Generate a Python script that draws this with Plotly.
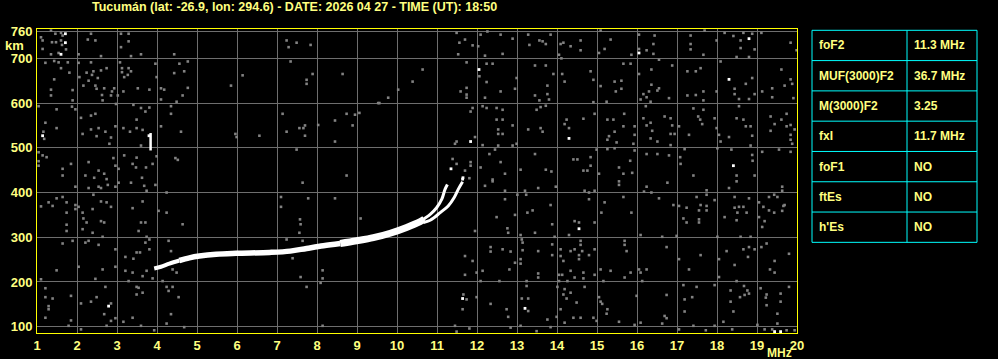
import plotly.graph_objects as go

TITLE = "Tucumán (lat: -26.9, lon: 294.6) - DATE: 2026 04 27 - TIME (UT): 18:50"

x_ticks = list(range(1, 21))
y_ticks = [100, 200, 300, 400, 500, 600, 700, 760]

# F2 echo trace (common part), then ordinary and extraordinary branches
main_mhz = [3.93, 4.10, 4.31, 4.56, 4.81, 5.06, 5.48, 5.98, 6.81, 7.33, 7.74, 8.16, 8.58, 8.99, 9.41, 9.83, 10.24, 10.58, 10.68]
main_km = [230, 234, 241, 248, 254, 258, 262, 264, 266, 269, 275, 281, 286, 292, 299, 309, 322, 335, 340]
o_mhz = [10.62, 10.83, 10.99, 11.12, 11.20, 11.26]
o_km = [338, 351, 366, 385, 407, 418]
x_mhz = [10.66, 10.83, 11.08, 11.28, 11.43, 11.53, 11.64]
x_km = [333, 338, 355, 370, 389, 407, 424]
spur_mhz = [3.84, 3.84]
spur_km = [494, 533]

# bright isolated echoes
white_mhz = [1.71, 1.71, 1.60, 1.14, 12.05, 11.84, 11.35, 11.64, 16.05, 18.80, 18.30, 14.30, 18.41, 2.79, 11.64, 13.20, 14.55, 19.44, 19.59, 11.65, 3.80]
white_km = [755, 735, 709, 527, 675, 514, 453, 430, 712, 744, 653, 521, 460, 146, 163, 141, 319, 89, 89, 433, 527]

# background noise speckles, read region by region (MHz, km)
noise_upper_left = [
    (1.35, 762), (1.46, 755), (1.60, 757), (1.64, 751), (1.10, 747), (1.14, 740), (1.375, 736), (1.475, 736),
    (1.60, 740), (1.625, 730), (1.14, 721), (1.54, 712), (1.35, 709), (1.725, 720), (2.04, 709), (2.35, 755),
    (2.27, 742), (2.46, 740), (2.60, 705), (3.10, 755), (3.29, 755), (3.29, 738), (3.10, 725), (3.35, 705),
    (3.60, 709), (4.43, 709), (7.24, 740), (7.29, 725), (1.21, 690), (1.43, 694), (1.54, 691), (1.77, 691),
    (1.60, 678), (1.81, 668), (2.04, 690), (2.35, 691), (2.06, 658), (2.24, 668), (2.375, 663), (2.41, 671),
    (2.60, 673), (2.74, 678), (2.29, 650), (2.52, 656), (1.43, 653), (3.075, 691), (3.125, 678), (3.29, 678),
    (3.125, 669), (3.35, 671), (3.18, 658), (3.27, 663), (3.96, 688), (3.99, 658), (4.56, 688), (4.77, 693),
    (4.43, 667), (4.68, 671), (6.14, 662), (5.85, 639), (1.35, 630), (1.35, 617), (1.89, 629), (1.89, 606),
    (2.16, 639), (2.46, 639), (2.49, 632), (2.68, 633), (2.93, 633), (2.875, 626), (2.625, 618), (2.64, 606),
    (2.85, 617), (3.02, 617), (3.16, 626), (3.52, 633), (3.81, 630), (4.10, 633), (4.18, 630), (4.10, 608),
    (4.49, 603), (4.64, 617), (4.77, 634), (1.04, 593), (1.49, 586), (1.96, 586), (1.875, 592), (2.10, 567),
    (2.35, 572), (2.46, 576), (2.975, 598), (3.41, 596), (3.60, 589), (3.71, 581), (3.81, 590), (3.49, 563),
    (4.35, 593), (4.35, 576), (1.21, 556), (1.49, 544), (1.16, 536), (1.18, 520), (2.14, 531), (2.35, 541),
    (2.54, 544), (2.71, 536), (2.49, 526), (2.85, 523), (2.81, 509), (2.96, 548), (3.16, 544), (3.325, 536),
    (3.49, 544), (3.64, 540), (3.60, 505), (4.10, 548), (4.60, 536), (5.96, 531), (5.99, 524), (6.56, 527),
    (7.24, 536), (7.14, 576), (1.04, 490), (1.14, 483), (1.24, 479), (1.04, 460), (1.04, 470), (1.64, 453),
    (1.85, 464), (2.29, 468), (2.21, 438), (2.54, 449), (2.68, 442), (2.91, 477), (2.96, 460), (3.04, 453),
    (3.18, 483), (3.39, 464), (3.475, 456), (3.49, 478), (3.725, 456), (3.89, 464), (3.625, 433), (3.99, 481),
    (4.46, 477), (4.52, 473), (2.43, 433), (1.64, 438), (2.74, 430),
]
noise_upper_mid = [
    (7.49, 735), (7.84, 730), (7.34, 693), (7.89, 665), (7.74, 652), (7.74, 643), (8.64, 665), (10.64, 675),
    (10.39, 648), (10.03, 630), (9.78, 612), (9.53, 600), (11.49, 757), (11.70, 742), (11.89, 729), (11.56, 735),
    (11.53, 709), (12.03, 727), (12.09, 753), (12.26, 760), (12.20, 706), (11.74, 691), (12.24, 688), (12.39, 688),
    (12.06, 660), (12.24, 647), (11.74, 634), (11.59, 626), (11.74, 619), (11.74, 612), (12.20, 612), (12.59, 626),
    (12.95, 632), (12.99, 656), (13.45, 684), (12.59, 753), (12.64, 710), (12.89, 744), (13.28, 753), (13.31, 730),
    (13.56, 740), (13.64, 738), (13.45, 617), (13.56, 606), (13.59, 591), (13.49, 585), (13.28, 541), (13.59, 544),
    (13.64, 536), (12.89, 550), (11.89, 589), (11.84, 581), (12.14, 593), (12.24, 589), (12.49, 589), (12.64, 585),
    (12.49, 563), (12.64, 563), (12.53, 541), (12.64, 531), (12.53, 531), (11.95, 524), (11.49, 514), (11.45, 509),
    (12.14, 506), (12.53, 505), (12.89, 505), (12.99, 509), (12.31, 486), (12.45, 496), (13.45, 486), (11.39, 475),
    (11.49, 464), (11.70, 449), (11.84, 468), (11.84, 460), (12.09, 456), (12.59, 468), (12.70, 442), (13.09, 451),
    (11.81, 432), (12.39, 429), (8.74, 438), (7.49, 496), (7.56, 544), (7.66, 544), (7.70, 550), (7.70, 527),
    (8.03, 551), (8.45, 561), (8.45, 514), (8.74, 576), (8.95, 574), (8.89, 550), (9.06, 578), (9.56, 600),
]
noise_upper_right = [
    (13.72, 732), (13.84, 753), (14.09, 732), (14.16, 735), (14.34, 727), (14.59, 740), (14.59, 718), (14.05, 708),
    (14.11, 700), (15.09, 762), (15.34, 742), (15.19, 721), (15.05, 712), (15.86, 708), (16.05, 753), (16.05, 721),
    (16.24, 718), (16.41, 732), (16.44, 751), (16.41, 710), (16.55, 697), (17.34, 751), (17.34, 732), (17.34, 720),
    (17.66, 708), (17.69, 762), (17.99, 740), (18.19, 757), (18.41, 750), (18.59, 740), (18.66, 757), (18.88, 755),
    (18.94, 720), (19.11, 757), (18.59, 723), (18.49, 703), (18.80, 703), (19.84, 735), (19.99, 718), (13.72, 684),
    (13.91, 665), (14.13, 665), (14.19, 648), (14.84, 671), (14.91, 652), (13.76, 639), (13.80, 608), (13.76, 620),
    (14.91, 602), (15.24, 603), (15.44, 648), (15.47, 626), (15.61, 650), (15.61, 632), (15.66, 688), (15.84, 688),
    (15.09, 638), (16.05, 665), (16.36, 675), (16.36, 641), (16.51, 628), (16.55, 633), (16.30, 626), (16.16, 620),
    (16.24, 613), (16.34, 603), (16.09, 608), (16.80, 611), (16.88, 684), (17.26, 671), (17.47, 671), (17.59, 678),
    (17.26, 617), (17.47, 618), (17.66, 626), (17.66, 606), (17.99, 626), (18.09, 693), (18.44, 632), (18.44, 620),
    (18.55, 609), (18.72, 643), (18.80, 609), (18.88, 656), (18.94, 620), (19.13, 626), (19.38, 633), (19.38, 613),
    (19.61, 675), (19.69, 639), (19.88, 643), (19.91, 611), (19.84, 653), (13.72, 594), (14.24, 563), (14.19, 553),
    (14.30, 544), (14.66, 565), (14.94, 576), (15.26, 563), (15.41, 563), (15.44, 536), (15.30, 526), (15.26, 518),
    (15.49, 512), (15.68, 576), (15.66, 548), (15.94, 548), (15.94, 529), (15.91, 509), (16.16, 566), (16.22, 593),
    (16.24, 550), (16.34, 556), (16.38, 538), (16.34, 521), (16.51, 514), (16.69, 570), (16.84, 566), (16.88, 550),
    (16.84, 531), (16.94, 531), (16.84, 506), (17.05, 548), (17.30, 529), (17.41, 588), (17.53, 570), (17.58, 563),
    (17.63, 553), (17.66, 585), (17.94, 566), (17.99, 544), (18.05, 529), (18.09, 514), (18.30, 524), (18.55, 593),
    (18.49, 566), (18.66, 563), (18.72, 548), (18.84, 548), (18.88, 527), (18.84, 505), (19.34, 570), (19.44, 553),
    (19.34, 538), (19.61, 563), (19.74, 576), (19.74, 548), (19.84, 551), (19.84, 529), (19.94, 541), (19.84, 518),
    (13.72, 451), (13.86, 447), (14.41, 474), (14.51, 474), (14.66, 449), (14.76, 449), (14.84, 479), (14.84, 460),
    (14.99, 496), (15.05, 442), (15.26, 497), (15.44, 499), (15.55, 456), (15.66, 442), (15.83, 471), (15.88, 444),
    (15.94, 494), (16.24, 486), (16.51, 486), (16.80, 483), (17.08, 479), (17.09, 464), (17.19, 497), (17.41, 438),
    (18.01, 499), (18.36, 496), (18.49, 438), (18.88, 484), (18.89, 471), (18.94, 438), (19.13, 491), (19.55, 496),
    (19.84, 491), (19.88, 509),
]
noise_lower_left = [
    (1.96, 413), (2.29, 410), (2.54, 413), (2.60, 410), (2.77, 417), (2.96, 413), (3.04, 422), (3.35, 422),
    (3.68, 415), (3.74, 404), (3.96, 417), (4.24, 400), (1.10, 369), (1.29, 378), (1.39, 370), (1.49, 387),
    (1.64, 390), (1.74, 378), (1.96, 372), (1.96, 363), (2.04, 368), (2.41, 395), (2.60, 380), (2.74, 378),
    (2.85, 368), (2.39, 363), (2.14, 355), (1.74, 355), (2.16, 342), (2.24, 333), (2.60, 336), (2.68, 333),
    (1.74, 328), (1.74, 314), (2.14, 318), (2.39, 310), (2.64, 301), (3.39, 365), (3.64, 380), (3.60, 333),
    (3.71, 333), (3.54, 314), (4.04, 359), (4.24, 355), (4.64, 329), (3.74, 301), (3.81, 295), (3.71, 288),
    (1.89, 292), (1.64, 286), (2.21, 288), (2.29, 292), (2.54, 283), (2.96, 273), (3.575, 266), (3.49, 266),
    (3.81, 273), (3.21, 256), (3.41, 252), (4.29, 292), (4.35, 269), (2.04, 234), (2.64, 228), (2.96, 234),
    (1.49, 226), (1.10, 206), (2.46, 207), (3.21, 225), (3.39, 221), (3.74, 225), (3.64, 213), (3.89, 208),
    (3.29, 202), (4.14, 202), (4.39, 228), (4.49, 221), (2.71, 189), (1.21, 186), (1.21, 166), (1.39, 163),
    (1.29, 146), (1.29, 139), (1.85, 169), (2.10, 152), (2.35, 156), (2.49, 166), (2.85, 152), (2.68, 128),
    (2.85, 113), (2.96, 119), (3.16, 111), (3.39, 120), (3.49, 189), (3.54, 187), (3.49, 172), (3.64, 176),
    (4.24, 189), (4.39, 189), (4.29, 180), (4.54, 166), (4.35, 128), (4.24, 107), (1.21, 120), (1.85, 114),
    (1.79, 102), (2.10, 94), (2.74, 102), (3.60, 102), (3.93, 92), (4.68, 99), (7.10, 390), (7.10, 368),
    (7.24, 295), (7.64, 422), (7.78, 387), (8.45, 387), (7.575, 340), (7.59, 329), (7.56, 310), (7.64, 292),
    (9.09, 342), (7.39, 253), (8.14, 226), (8.14, 208), (7.59, 211), (7.74, 189), (8.09, 198), (8.14, 102),
]
noise_lower_mid = [
    (11.95, 314), (11.70, 258), (11.89, 247), (11.70, 216), (11.99, 221), (12.14, 225), (12.09, 202), (11.66, 172),
    (11.74, 161), (11.64, 139), (11.99, 166), (12.34, 278), (12.34, 268), (12.49, 345), (12.64, 273), (12.70, 385),
    (12.70, 404), (12.76, 320), (12.78, 310), (12.84, 268), (12.95, 350), (13.01, 395), (13.09, 305), (13.12, 295),
    (13.14, 288), (13.14, 271), (13.20, 404), (13.23, 395), (13.26, 355), (13.39, 360), (13.45, 310), (13.53, 269),
    (13.09, 251), (13.09, 241), (12.95, 243), (12.81, 228), (12.56, 202), (13.24, 202), (13.24, 191), (13.53, 219),
    (13.53, 210), (13.12, 163), (13.28, 163), (13.28, 135), (12.74, 139), (12.78, 122), (12.84, 98), (13.09, 102),
    (13.49, 90), (12.34, 151), (12.20, 415), (12.39, 425), (13.53, 410), (11.45, 102), (11.49, 89), (11.81, 96),
]
noise_lower_right = [
    (13.97, 413), (14.69, 404), (14.80, 400), (14.94, 404), (14.80, 385), (13.84, 372), (15.19, 378), (15.11, 355),
    (15.66, 390), (15.86, 355), (15.55, 417), (15.55, 425), (16.24, 413), (16.175, 402), (16.36, 400), (16.55, 387),
    (16.76, 422), (16.91, 372), (17.05, 370), (17.24, 366), (17.49, 390), (17.55, 360), (17.59, 372), (17.74, 405),
    (17.74, 395), (17.94, 383), (17.74, 370), (17.74, 360), (17.55, 340), (17.55, 333), (17.16, 342), (17.24, 333),
    (18.30, 410), (18.49, 425), (18.44, 390), (18.44, 366), (18.55, 368), (18.66, 368), (18.51, 355), (18.74, 355),
    (18.80, 387), (18.19, 345), (18.49, 338), (19.05, 378), (19.16, 368), (19.30, 390), (19.43, 395), (19.51, 390),
    (19.63, 413), (19.63, 404), (19.66, 370), (19.69, 372), (19.43, 355), (19.30, 360), (19.63, 359), (19.05, 345),
    (19.19, 336), (19.13, 323), (13.88, 329), (14.44, 336), (14.55, 333), (14.94, 333), (14.30, 305), (13.94, 301),
    (16.09, 305), (16.63, 301), (16.99, 303), (18.01, 301), (18.59, 301), (18.84, 301), (13.88, 284), (14.09, 273),
    (14.09, 258), (13.88, 260), (14.34, 269), (14.44, 273), (14.59, 292), (14.59, 283), (14.55, 260), (14.55, 251),
    (14.80, 260), (14.63, 269), (14.94, 273), (14.16, 247), (14.34, 225), (14.66, 221), (14.44, 210), (14.66, 208),
    (14.05, 216), (14.13, 216), (14.05, 202), (14.26, 202), (14.94, 216), (15.69, 292), (15.69, 283), (15.74, 269),
    (15.09, 228), (15.34, 225), (15.84, 221), (15.69, 210), (15.16, 202), (16.05, 228), (16.24, 228), (16.09, 221),
    (16.13, 202), (16.74, 278), (17.05, 251), (17.30, 228), (17.59, 260), (18.05, 251), (18.24, 269), (18.44, 238),
    (18.05, 211), (18.49, 202), (18.66, 273), (18.80, 278), (18.775, 256), (18.94, 273), (19.11, 278), (19.24, 286),
    (19.44, 247), (19.325, 228), (19.44, 221), (19.80, 263), (14.01, 189), (14.19, 184), (14.16, 172), (14.34, 176),
    (14.24, 163), (14.69, 189), (14.49, 154), (14.09, 139), (13.99, 122), (13.76, 116), (13.84, 99), (14.19, 109),
    (14.41, 120), (14.59, 120), (14.91, 120), (14.99, 113), (15.05, 166), (15.13, 151), (15.09, 156), (15.26, 139),
    (15.24, 129), (15.55, 111), (15.99, 169), (15.94, 104), (16.09, 109), (16.74, 171), (16.69, 124), (16.74, 119),
    (16.63, 107), (17.16, 193), (17.19, 161), (17.38, 166), (17.49, 189), (17.19, 134), (17.05, 94), (17.41, 102),
    (17.72, 92), (17.94, 193), (17.94, 102), (18.16, 111), (18.34, 181), (18.34, 156), (18.41, 134), (18.675, 191),
    (18.76, 181), (18.80, 174), (18.69, 171), (18.575, 166), (19.09, 186), (19.22, 165), (19.24, 172), (19.24, 148),
    (19.59, 174), (19.59, 156), (19.80, 189), (19.51, 129), (19.19, 94), (19.38, 94), (19.74, 92), (19.94, 92),
    (18.38, 94), (19.01, 104), (19.51, 107),
]

params = ["foF2", "MUF(3000)F2", "M(3000)F2", "fxI", "foF1", "ftEs", "h'Es"]
param_values = ["11.3 MHz", "36.7 MHz", "3.25", "11.7 MHz", "NO", "NO", "NO"]

# ---------------------------------------------------------------- layout geometry
W, H = 998, 359
ML, MR, MT, MB = 37, 201, 29, 26
PW, PH = W - ML - MR, H - MT - MB


def px_x(px):
    return (px - ML) / PW


def px_y(py):
    return (H - MB - py) / PH


TXT = "#ffff80"
FAM = "Liberation Sans, Arial, sans-serif"
FONT = dict(family=FAM, size=12, color=TXT, weight="bold")
TICKFONT = dict(family=FAM, size=13, color=TXT, weight="bold")
TITLEFONT = dict(family=FAM, size=12.5, color=TXT, weight="bold")

fig = go.Figure()

noise = noise_upper_left + noise_upper_mid + noise_upper_right + noise_lower_left + noise_lower_mid + noise_lower_right
fig.add_trace(go.Scatter(
    x=[p[0] for p in noise], y=[p[1] for p in noise], mode="markers",
    marker=dict(symbol="square", size=2.6, color="#828282", line=dict(width=0)),
    hoverinfo="skip", showlegend=False))
fig.add_trace(go.Scatter(
    x=white_mhz, y=white_km, mode="markers",
    marker=dict(symbol="square", size=2.8, color="#ffffff", line=dict(width=0)),
    hoverinfo="skip", showlegend=False))

fig.add_trace(go.Scatter(x=main_mhz[:4], y=main_km[:4], mode="lines",
                         line=dict(color="white", width=4, shape="spline"), showlegend=False))
fig.add_trace(go.Scatter(x=main_mhz[3:13], y=main_km[3:13], mode="lines",
                         line=dict(color="white", width=5.5, shape="spline"), showlegend=False))
fig.add_trace(go.Scatter(x=main_mhz[12:], y=main_km[12:], mode="lines",
                         line=dict(color="white", width=7, shape="spline"), showlegend=False))
fig.add_trace(go.Scatter(x=o_mhz, y=o_km, mode="lines",
                         line=dict(color="white", width=3, shape="spline"), showlegend=False))
fig.add_trace(go.Scatter(x=x_mhz, y=x_km, mode="lines",
                         line=dict(color="white", width=3, shape="spline"), showlegend=False))
fig.add_trace(go.Scatter(x=spur_mhz, y=spur_km, mode="lines",
                         line=dict(color="white", width=2.5), showlegend=False))

fig.update_xaxes(range=[1, 20], tickvals=x_ticks, ticktext=[str(v) for v in x_ticks],
                 showgrid=True, gridcolor="#6e6e6e", gridwidth=1, zeroline=False,
                 showline=True, linecolor="#ffff00", linewidth=1, mirror=True,
                 ticks="", tickfont=TICKFONT, ticklabelstandoff=0, automargin=False)
fig.update_yaxes(range=[85.9, 765.6], tickvals=y_ticks, ticktext=[str(v) for v in y_ticks],
                 showgrid=True, gridcolor="#6e6e6e", gridwidth=1, zeroline=False,
                 showline=True, linecolor="#ffff00", linewidth=1, mirror=True,
                 ticks="", tickfont=TICKFONT, ticklabelstandoff=1, automargin=False)

annotations = [
    dict(text=TITLE, xref="paper", yref="paper", x=px_x(90), y=px_y(7), xanchor="left", yanchor="middle",
         showarrow=False, font=TITLEFONT),
    dict(text="km", xref="paper", yref="paper", x=px_x(14), y=px_y(45), xanchor="center", yanchor="middle",
         showarrow=False, font=TICKFONT),
    dict(text="MHz", xref="paper", yref="paper", x=px_x(779), y=px_y(353), xanchor="center", yanchor="middle",
         showarrow=False, font=FONT),
]

shapes = []
tl, tr, tdiv = 812, 977, 907
ttop, row_h = 30.3, 30.29
n = len(params)
shapes.append(dict(type="rect", xref="paper", yref="paper", x0=px_x(tl), x1=px_x(tr),
                   y0=px_y(ttop), y1=px_y(ttop + n * row_h), line=dict(color="#00ffff", width=1)))
shapes.append(dict(type="line", xref="paper", yref="paper", x0=px_x(tdiv), x1=px_x(tdiv),
                   y0=px_y(ttop), y1=px_y(ttop + n * row_h), line=dict(color="#00ffff", width=1)))
for i in range(1, n):
    yy = px_y(ttop + i * row_h)
    shapes.append(dict(type="line", xref="paper", yref="paper", x0=px_x(tl), x1=px_x(tr),
                       y0=yy, y1=yy, line=dict(color="#00ffff", width=1)))
for i, (p, v) in enumerate(zip(params, param_values)):
    yc = px_y(ttop + (i + 0.5) * row_h)
    annotations.append(dict(text=p, xref="paper", yref="paper", x=px_x(817), y=yc, xanchor="left",
                            yanchor="middle", showarrow=False, font=FONT))
    annotations.append(dict(text=v, xref="paper", yref="paper", x=px_x(912), y=yc, xanchor="left",
                            yanchor="middle", showarrow=False, font=FONT))

fig.update_layout(
    width=W, height=H, autosize=False,
    margin=dict(l=ML, r=MR, t=MT, b=MB, pad=0, autoexpand=False),
    paper_bgcolor="black", plot_bgcolor="black",
    annotations=annotations, shapes=shapes, showlegend=False,
    font=FONT,
)

fig.write_html("out.html", config={"displayModeBar": False})
